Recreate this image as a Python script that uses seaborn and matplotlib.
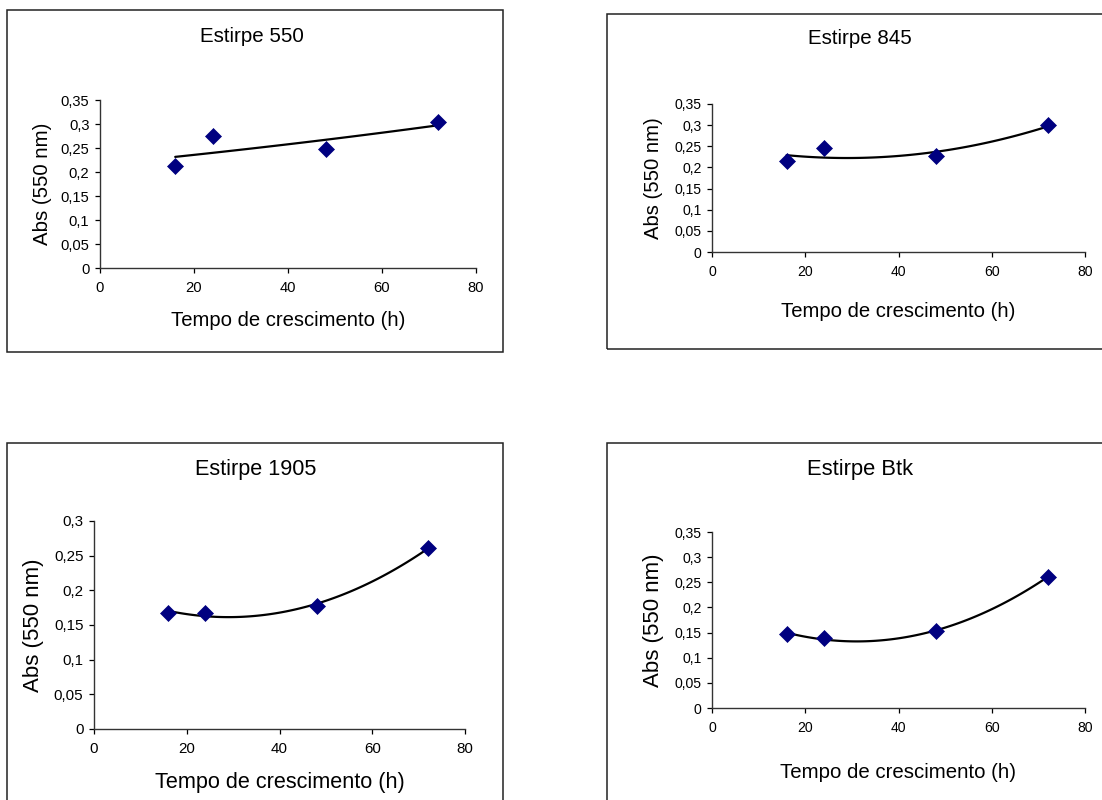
import numpy as np
import pandas as pd
import seaborn as sns
import matplotlib.pyplot as plt
from matplotlib.patches import Rectangle

# data
hours = [16, 24, 48, 72]
abs_550 = [0.213, 0.275, 0.247, 0.305]
abs_845 = [0.215, 0.245, 0.226, 0.300]
abs_1905 = [0.167, 0.168, 0.178, 0.261]
abs_btk = [0.148, 0.139, 0.153, 0.261]

titles = ['Estirpe 550', 'Estirpe 845', 'Estirpe 1905', 'Estirpe Btk']
trend = ['exp', 'poly', 'poly', 'poly']
y_max = [0.35, 0.35, 0.3, 0.35]
x_ticks = [0, 20, 40, 60, 80]

sns.set_style('ticks')
plt.rcParams['font.family'] = ['Liberation Sans', 'DejaVu Sans']
plt.rcParams['text.color'] = 'black'
plt.rcParams['axes.labelcolor'] = 'black'

W, H = 1102, 800
fig = plt.figure(figsize=(W / 100, H / 100), dpi=100)

# pixel layout: axes box (x0, x1, ytop, ybottom), frame box, title pos, font sizes
layout = [
    dict(ax=(100, 476, 100, 268), frame=(7, 503, 10, 352), title=(252, 36),
         fs_t=14.8, fs_x=14.6, fs_y=14.7, fs_tick=10.6, xl=-0.31, yl=-0.154),
    dict(ax=(712, 1085, 104, 252), frame=(607, 1110, 14, 349), title=(860, 39),
         fs_t=14.8, fs_x=14.6, fs_y=14.6, fs_tick=10.1, xl=-0.405, yl=-0.158),
    dict(ax=(94, 465, 521, 729), frame=(7, 503, 443, 820), title=(256, 469),
         fs_t=15.6, fs_x=15.6, fs_y=16, fs_tick=10.9, xl=-0.255, yl=-0.164),
    dict(ax=(712, 1085, 532, 708), frame=(607, 1110, 443, 820), title=(860, 469),
         fs_t=15.8, fs_x=14.7, fs_y=16, fs_tick=10.1, xl=-0.364, yl=-0.158),
]

series = [abs_550, abs_845, abs_1905, abs_btk]

for vals, title, kind, ymax, lay in zip(series, titles, trend, y_max, layout):
    fx0, fx1, fy0, fy1 = lay['frame']
    fig.patches.append(Rectangle((fx0 / W, 1 - fy1 / H), (fx1 - fx0) / W, (fy1 - fy0) / H,
                                 transform=fig.transFigure, fill=False,
                                 edgecolor='#222222', lw=1.1))
    x0, x1, yt, yb = lay['ax']
    ax = fig.add_axes([x0 / W, 1 - yb / H, (x1 - x0) / W, (yb - yt) / H])

    df = pd.DataFrame({'h': hours, 'abs': vals})
    xs = np.linspace(min(hours), max(hours), 100)
    if kind == 'exp':
        b, a = np.polyfit(df['h'], np.log(df['abs']), 1)
        ys = np.exp(a + b * xs)
    else:
        ys = np.polyval(np.polyfit(df['h'], df['abs'], 2), xs)
    sns.lineplot(x=xs, y=ys, ax=ax, color='black', lw=1.6, zorder=2)
    sns.scatterplot(data=df, x='h', y='abs', ax=ax, marker='D', s=66,
                    color='#000080', edgecolor='#000080', linewidth=0.5, zorder=3)

    ax.set_xlim(0, 80)
    ax.set_ylim(0, ymax)
    ax.set_xticks(x_ticks)
    yt_vals = np.round(np.arange(0, ymax + 0.001, 0.05), 2)
    ax.set_yticks(yt_vals)
    ax.set_yticklabels([('%g' % v).replace('.', ',') for v in yt_vals])
    ax.tick_params(labelsize=lay['fs_tick'], length=3.6, width=0.9, colors='black')
    ax.tick_params(axis='x', pad=6)
    ax.tick_params(axis='y', pad=4)
    for s in ['left', 'bottom']:
        ax.spines[s].set_color('#333333')
        ax.spines[s].set_linewidth(1.0)
    sns.despine(ax=ax)

    ax.set_xlabel('Tempo de crescimento (h)', fontsize=lay['fs_x'])
    ax.set_ylabel('Abs (550 nm)', fontsize=lay['fs_y'])
    ax.xaxis.label.set_va('center')
    ax.yaxis.label.set_va('center')
    ax.xaxis.set_label_coords(0.5, lay['xl'])
    ax.yaxis.set_label_coords(lay['yl'], 0.5)

    tx, ty = lay['title']
    fig.text(tx / W, 1 - ty / H, title, ha='center', va='center', fontsize=lay['fs_t'])

fig.savefig('out.png', dpi=100)
